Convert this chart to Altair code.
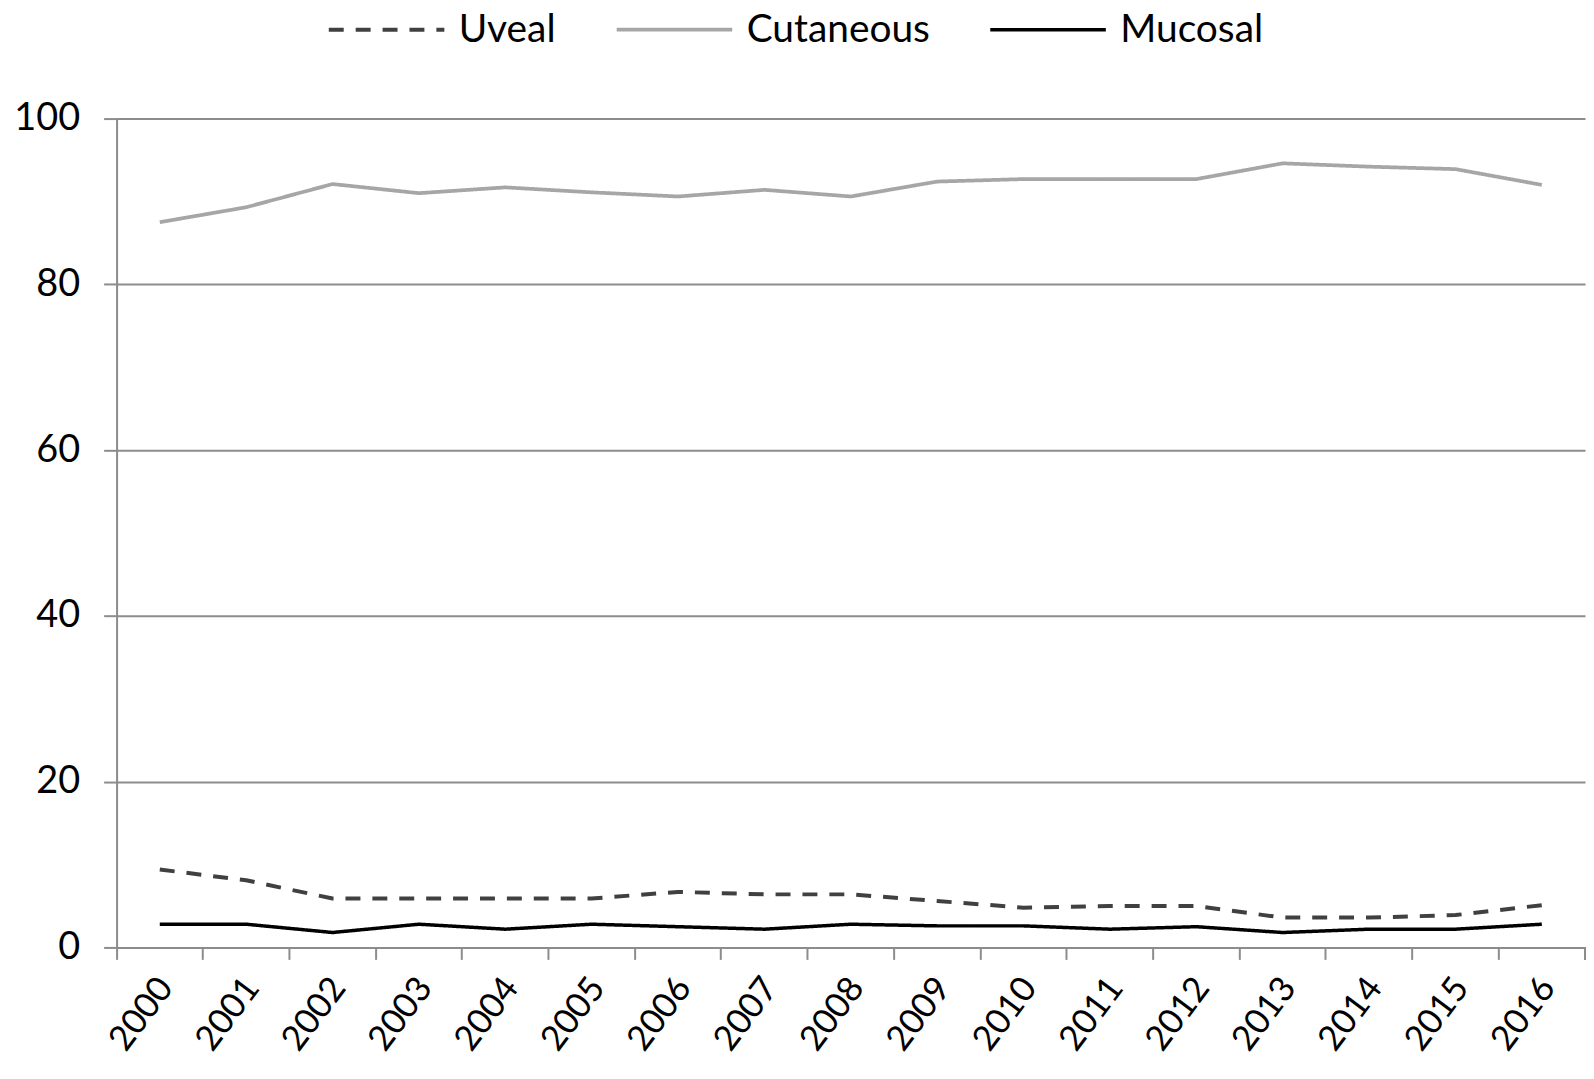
import altair as alt
import pandas as pd

years = ["2000", "2001", "2002", "2003", "2004", "2005", "2006", "2007", "2008",
         "2009", "2010", "2011", "2012", "2013", "2014", "2015", "2016"]
uveal = [9.4, 8.1, 5.9, 5.9, 5.9, 5.9, 6.7, 6.4, 6.4, 5.6, 4.8, 5.0, 5.0, 3.6, 3.6, 3.9, 5.1]
cutaneous = [87.5, 89.3, 92.1, 91.0, 91.7, 91.1, 90.6, 91.4, 90.6, 92.4, 92.7, 92.7, 92.7, 94.6, 94.2, 93.9, 92.0]
mucosal = [2.8, 2.8, 1.8, 2.8, 2.2, 2.8, 2.5, 2.2, 2.8, 2.6, 2.6, 2.2, 2.5, 1.8, 2.2, 2.2, 2.8]
series = ["Uveal", "Cutaneous", "Mucosal"]
y_ticks = [0, 20, 40, 60, 80, 100]

rows = []
for name, vals in zip(series, [uveal, cutaneous, mucosal]):
    for yr, v in zip(years, vals):
        rows.append({"year": yr, "value": v, "type": name})
df = pd.DataFrame(rows)

W, H = 1474, 832
FONT = "Lato"
GRAY = "#8c8c8c"
XTICK = 12

leg = dict(title=None, orient="none", legendX=210, legendY=-109,
           direction="horizontal", symbolType="M-4,0H4",
           symbolSize=841, symbolStrokeWidth=4, symbolOffset=41.5,
           labelLimit=600, labelFontSize=39, labelFont=FONT, labelColor="black",
           columnPadding=53, labelOffset=53)

lines = alt.Chart(df).mark_line(strokeJoin="round").encode(
    x=alt.X("year:O", sort=years, title=None,
            scale=alt.Scale(type="band", paddingInner=0, paddingOuter=0),
            axis=alt.Axis(bandPosition=0, labelAngle=307, labelOffset=6,
                          labelAlign="right", labelBaseline="middle",
                          labelFontSize=35, labelFont=FONT, labelColor="black",
                          labelPadding=22, tickSize=XTICK, tickColor=GRAY, tickWidth=2,
                          domainColor=GRAY, domainWidth=2, grid=False)),
    y=alt.Y("value:Q", title=None,
            scale=alt.Scale(domain=[0, 100], nice=False),
            axis=alt.Axis(values=y_ticks, labelFontSize=38, labelFont=FONT,
                          labelColor="black", labelPadding=24, tickSize=13,
                          tickColor=GRAY, tickWidth=2, domainColor=GRAY,
                          domainWidth=2, gridColor=GRAY, gridWidth=2,
                          minExtent=109, maxExtent=109)),
    color=alt.Color("type:N", sort=series,
                    scale=alt.Scale(domain=series, range=["#404040", "#a6a6a6", "#000000"]),
                    legend=alt.Legend(**leg)),
    strokeDash=alt.StrokeDash("type:N", sort=series,
                              scale=alt.Scale(domain=series, range=[[15, 12], [1, 0], [1, 0]]),
                              legend=alt.Legend(**leg)),
    strokeWidth=alt.StrokeWidth("type:N", scale=alt.Scale(domain=series, range=[4, 3.5, 4.5]),
                                legend=None),
)

# closing tick at the right end of the category axis
end_tick = alt.Chart(df).mark_rule(color=GRAY, strokeWidth=2).encode(
    x=alt.value(W), y=alt.value(H), y2=alt.value(H + XTICK)
)

chart = alt.layer(lines, end_tick).properties(
    width=W, height=H, padding=0,
).configure_view(stroke=None)

chart.save("out.html", embed_options={"renderer": "svg", "actions": False})
